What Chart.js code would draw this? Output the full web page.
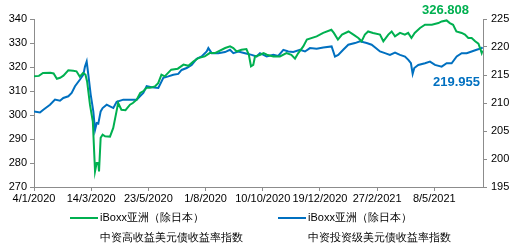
<!DOCTYPE html>
<html>
<head>
<meta charset="utf-8">
<script src="https://cdn.jsdelivr.net/npm/chart.js@4"></script>
<style>
  html, body { margin: 0; padding: 0; background: #fff; }
  #wrap { width: 521px; height: 247px; }
</style>
</head>
<body>
<div id="wrap"><canvas id="chart" width="521" height="247"></canvas></div>
<script>
// days counted from 4/1/2020
const startDate = Date.UTC(2020, 0, 4);
const tickDays = [0, 70, 140, 210, 280, 350, 420, 490];

// iBoxx亚洲（除日本）中资高收益美元债收益率指数 (left axis)
const hyDays = [0, 6, 11, 20, 24, 28, 32, 36, 42, 48, 52, 56, 60, 63, 65, 68.5, 72, 74.7, 76.7, 78.7,
  79.6, 81.6, 84, 87, 93, 97, 101, 103, 107, 112, 117.5, 121, 125.7, 130, 134, 138, 142, 148, 152, 156,
  160, 168, 176, 183, 189, 195, 201, 209, 215, 221.5, 234, 240, 244, 248, 254, 260, 263, 265.6, 268.4, 270.5,
  277, 281, 285, 293, 301, 309, 315, 319.5, 323.5, 329.6, 334, 346, 354, 364, 367, 372, 377, 385, 391, 397,
  401, 405, 409, 415, 423.5, 427.6, 433.7, 437.8, 441.9, 448, 454, 458, 462, 466, 472.5, 478.6, 487, 495, 499, 505,
  509, 513, 517, 523.5, 527.5, 531.6, 535.7, 540, 544, 546, 548, 549];
const hyValues = [316.1, 316.3, 317.5, 317.6, 317.3, 315.1, 315.5, 316.4, 318.6, 318.4, 318.2, 316, 317.5, 316.8, 314, 304.3, 297.3, 276.5, 280, 280,
  276.5, 290.5, 291.8, 291.1, 291, 294.6, 301.5, 305, 302.2, 302, 304.3, 305, 306.4, 309.2, 310, 311.4, 311.4, 311.9, 313.3, 316.8,
  316.1, 318.9, 319.3, 321, 320.5, 322.3, 323.7, 324.4, 325.8, 325.8, 327.9, 328.6, 327.9, 326.5, 327.2, 327.5, 325.1, 320.3, 320.9, 324.4,
  325.1, 325.8, 325.1, 324.4, 324.4, 325.8, 325.1, 323.5, 325.8, 328.6, 331.4, 332.75, 334.2, 335.5, 334.2, 331.4, 333.5, 334.8, 333.5, 332.1,
  330.7, 333.5, 334.8, 334.2, 333.5, 330.7, 333.5, 334.8, 332.75, 334.2, 333.5, 334.2, 332.1, 334.2, 336.25, 337.6, 337.6, 338.3, 339, 339.4,
  338.3, 337.6, 334.8, 334.2, 333.5, 332.1, 332.1, 330.7, 329.7, 327.9, 325.8, 326.808];

// iBoxx亚洲（除日本）中资投资级美元债收益率指数 (right axis)
const igDays = [0, 7.3, 11.4, 19.6, 25.7, 31.8, 35.9, 42, 46.1, 50.2, 56.3, 60.4, 62.4, 64.5, 66.5, 69.4, 72.6, 74.7, 76.7, 78.7,
  81.6, 84, 89, 93, 97.1, 101.2, 109.3, 117.5, 125.7, 129.7, 133.8, 137.9, 144, 152.2, 158.3, 164.4, 170.5, 176.6, 180.7, 186.9,
  193, 199.1, 205.2, 211.4, 213.4, 217.5, 225.6, 233.8, 239.9, 244, 250.1, 258.3, 266.4, 272.5, 276.6, 284.8, 292.9, 299, 305.2, 311.3,
  317.4, 325.6, 331.7, 337.8, 346, 354.1, 364.3, 368.4, 372.4, 378.5, 384.7, 392.9, 399, 407.2, 413.3, 419.5, 423.5, 429.6, 435.7, 441.9,
  448, 454.1, 458.2, 461.4, 463.5, 465.5, 470.4, 478.6, 484.7, 490.8, 499, 505.1, 511.2, 517.4, 523.5, 529.6, 535.7, 541.8, 548, 549];
const igValues = [208.5, 208.3, 208.8, 209.7, 210.6, 210.4, 210.9, 211.2, 211.8, 213, 214.2, 215.05, 216.5, 217.4, 215.05, 211.5, 208.5, 205.2, 206.4, 206.3,
  208.5, 209.1, 209.7, 209.4, 209.1, 210.2, 210.6, 210.6, 210.6, 211.2, 211.8, 213, 212.8, 212.7, 214.5, 214.75, 215.05, 215.2, 215.9, 216.25,
  216.8, 217.9, 218.3, 219.2, 219.8, 218.9, 218.9, 219.1, 219.5, 218.9, 219.2, 218.9, 218.6, 218.3, 218.9, 218.3, 218.6, 218.4, 219.5, 219.2,
  219.1, 219.5, 219.2, 219.8, 219.7, 219.9, 220.1, 218.3, 218.6, 219.5, 220.4, 220.7, 221, 220.7, 220.4, 219.7, 219.2, 218.9, 218.6, 219,
  218.6, 218.3, 217.7, 217.1, 215.2, 216.25, 216.8, 217.1, 217.4, 216.8, 216.5, 217.1, 217.1, 218.3, 218.9, 218.9, 219.2, 219.5, 219.8, 219.955];

const hyLabel = ["iBoxx亚洲（除日本）", "中资高收益美元债收益率指数"];
const igLabel = ["iBoxx亚洲（除日本）", "中资投资级美元债收益率指数"];

const green = "#00B050";
const blue = "#0070C0";
const axisGray = "#8c8c8c";
const FONT = "'Liberation Sans', Arial, sans-serif";

function fmtDay(d) {
    const dt = new Date(startDate + d * 86400000);
    return dt.getUTCDate() + "/" + (dt.getUTCMonth() + 1) + "/" + dt.getUTCFullYear();
}

// last-value labels and two-line legend
const extras = {
    id: "extras",
    afterDraw(chart) {
        const ctx = chart.ctx;
        const xs = chart.scales.x;
        ctx.save();
        ctx.textBaseline = "middle";

        // end labels
        ctx.font = "bold 13px " + FONT;
        ctx.textAlign = "center";
        const lx = xs.getPixelForValue(hyDays[hyDays.length - 1]);
        ctx.fillStyle = green;
        ctx.fillText(hyValues[hyValues.length - 1].toFixed(3), lx - 37, 10);
        ctx.fillStyle = blue;
        ctx.fillText(igValues[igValues.length - 1].toFixed(3), lx - 26, 82);

        // legend
        ctx.font = "11px " + FONT;
        ctx.textAlign = "left";
        const items = [
            { x: 70, color: green, text: hyLabel },
            { x: 278, color: blue, text: igLabel }
        ];
        items.forEach(it => {
            ctx.strokeStyle = it.color;
            ctx.lineWidth = 2;
            ctx.beginPath();
            ctx.moveTo(it.x, 218);
            ctx.lineTo(it.x + 28, 218);
            ctx.stroke();
            ctx.fillStyle = "#000";
            ctx.fillText(it.text[0], it.x + 30, 218);
            ctx.fillText(it.text[1], it.x + 30, 238);
        });
        ctx.restore();
    }
};

const toPoints = (days, vals) => days.map((d, i) => ({ x: d, y: vals[i] }));

new Chart(document.getElementById("chart"), {
    type: "line",
    data: {
        datasets: [
            {
                label: hyLabel.join(""),
                data: toPoints(hyDays, hyValues),
                borderColor: green,
                borderWidth: 2,
                pointRadius: 0,
                tension: 0,
                yAxisID: "y"
            },
            {
                label: igLabel.join(""),
                data: toPoints(igDays, igValues),
                borderColor: blue,
                borderWidth: 2,
                pointRadius: 0,
                tension: 0,
                yAxisID: "y2"
            }
        ]
    },
    options: {
        responsive: false,
        animation: false,
        layout: { padding: { top: 19, left: 0, right: 0, bottom: 0 } },
        plugins: {
            legend: { display: false },
            tooltip: { enabled: false }
        },
        scales: {
            x: {
                type: "linear",
                min: 0,
                max: 549.6,
                afterBuildTicks: axis => { axis.ticks = tickDays.map(v => ({ value: v })); },
                afterFit: s => { s.height = 60; },
                grid: { drawOnChartArea: false, tickLength: 4, color: axisGray },
                border: { color: axisGray },
                ticks: {
                    autoSkip: false,
                    maxRotation: 0,
                    padding: 1,
                    color: "#000",
                    font: { size: 11, family: FONT },
                    callback: v => fmtDay(v)
                }
            },
            y: {
                position: "left",
                min: 270,
                max: 340,
                afterFit: s => { s.width = 34; },
                grid: { drawOnChartArea: false, tickLength: 4, color: axisGray },
                border: { color: axisGray },
                ticks: { stepSize: 10, padding: 3, color: "#000", font: { size: 11, family: FONT } }
            },
            y2: {
                position: "right",
                min: 195,
                max: 225,
                afterFit: s => { s.width = 38; },
                grid: { drawOnChartArea: false, tickLength: 4, color: axisGray },
                border: { color: axisGray },
                ticks: { stepSize: 5, padding: 4, color: "#000", font: { size: 11, family: FONT } }
            }
        }
    },
    plugins: [extras]
});
</script>
</body>
</html>
